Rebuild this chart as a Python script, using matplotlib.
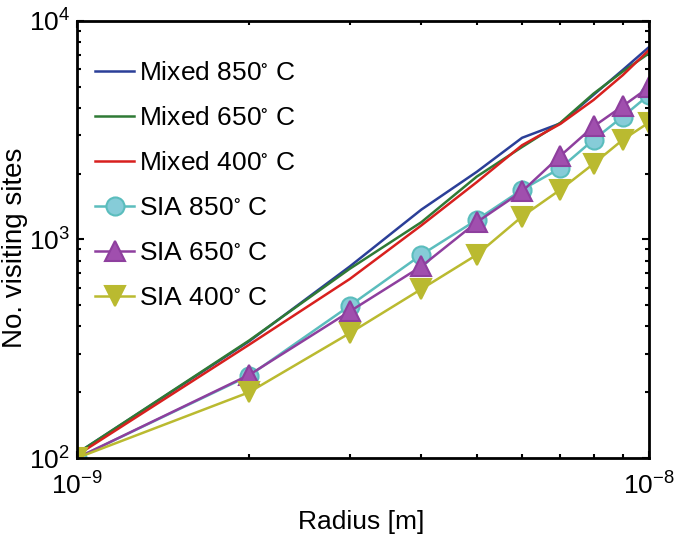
import matplotlib
matplotlib.use('Agg')
import matplotlib.pyplot as plt
from matplotlib.ticker import NullFormatter

plt.rcParams['font.family'] = ['Liberation Sans', 'DejaVu Sans']
plt.rcParams['mathtext.fontset'] = 'custom'
plt.rcParams['mathtext.rm'] = 'Liberation Sans'
plt.rcParams['mathtext.it'] = 'Liberation Sans'
plt.rcParams['mathtext.default'] = 'regular'

# radius values [m]
radius = [1e-9, 2e-9, 3e-9, 4e-9, 5e-9, 6e-9, 7e-9, 8e-9, 9e-9, 1e-8]

# number of visiting sites
mixed_850 = [105, 342, 753, 1370, 2040, 2920, 3400, 4590, 5970, 7590]
mixed_650 = [105, 345, 735, 1200, 1940, 2650, 3420, 4650, 5870, 7110]
mixed_400 = [103, 330, 660, 1160, 1830, 2700, 3380, 4350, 5650, 7360]
sia_850 = [100, 238, 498, 851, 1230, 1690, 2120, 2860, 3650, 4590]
sia_650 = [100, 240, 469, 753, 1200, 1660, 2415, 3290, 4080, 4975]
sia_400 = [100, 200, 373, 593, 851, 1274, 1690, 2220, 2860, 3430]

fig = plt.figure(figsize=(6.75, 5.34), dpi=100)
ax = fig.add_axes([0.114, 0.1423, 0.8474, 0.8184])

lw = 1.8
ax.plot(radius, mixed_850, color='#2B3F98', lw=lw, label=r'Mixed 850$^{\circ}$ C')
ax.plot(radius, mixed_650, color='#2F7A35', lw=lw, label=r'Mixed 650$^{\circ}$ C')
ax.plot(radius, mixed_400, color='#D8201E', lw=lw, label=r'Mixed 400$^{\circ}$ C')
ax.plot(radius, sia_850, color='#5BBDBD', lw=lw, marker='o', ms=13,
        mfc='#86CCD8', mec='#5BBDBD', mew=1.5, label=r'SIA 850$^{\circ}$ C')
ax.plot(radius, sia_650, color='#8E3F9E', lw=lw, marker='^', ms=14,
        mfc='#A04FAE', mec='#8E3F9E', mew=1.5, label=r'SIA 650$^{\circ}$ C')
ax.plot(radius, sia_400, color='#BABA30', lw=lw, marker='v', ms=14,
        mfc='#BABA30', mec='#BABA30', mew=1.5, label=r'SIA 400$^{\circ}$ C')

ax.set_xscale('log')
ax.set_yscale('log')
ax.set_xlim(1e-9, 1e-8)
ax.set_ylim(1e2, 1e4)
ax.xaxis.set_minor_formatter(NullFormatter())
ax.yaxis.set_minor_formatter(NullFormatter())

ax.tick_params(which='both', direction='in', top=True, right=True, width=1.5)
ax.tick_params(which='major', length=5, labelsize=19)
ax.tick_params(axis='x', which='major', pad=10)
ax.tick_params(axis='y', which='major', pad=5)
ax.tick_params(which='minor', length=3)
for s in ax.spines.values():
    s.set_linewidth(2)

ax.set_xlabel('Radius [m]', fontsize=19)
ax.set_ylabel('No. visiting sites', fontsize=20)
ax.xaxis.set_label_coords(0.497, -0.118)
ax.yaxis.set_label_coords(-0.085, 0.48)

ax.legend(loc='upper left', bbox_to_anchor=(0.0, 0.951), frameon=False,
          fontsize=19, handlelength=1.45, handletextpad=0.2,
          labelspacing=0.8, borderaxespad=0.3, borderpad=0.4)

fig.savefig('out.png', dpi=100)
